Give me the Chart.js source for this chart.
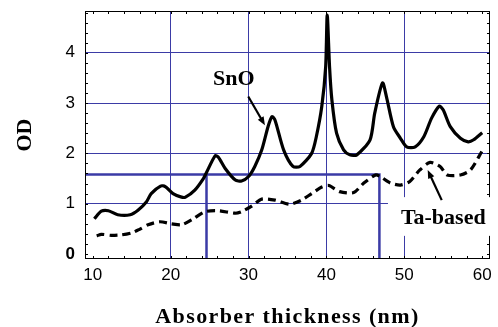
<!DOCTYPE html>
<html>
<head>
<meta charset="utf-8">
<script src="https://cdn.jsdelivr.net/npm/chart.js@4/dist/chart.umd.min.js"></script>
<style>
html, body { margin: 0; padding: 0; background: #fff; }
</style>
</head>
<body>
<canvas id="odChart" width="498" height="327"></canvas>
<script>
// valeurs
var snoThickness = [10.2, 11.1, 12.0, 13.2, 14.8, 15.8, 16.9, 17.5, 18.7, 19.3, 20.3, 21.4, 21.9, 23.1, 24.2, 24.6, 25.7, 26.1, 27.0, 28.3, 29.1, 30.0, 30.8, 31.7, 32.5, 33.0, 33.4, 34.5, 35.7, 36.6, 38.1, 38.7, 39.4, 39.9, 40.1, 40.4, 40.7, 41.3, 42.2, 43.0, 43.9, 45.6, 46.2, 47.2, 47.7, 48.6, 49.5, 50.3, 51.4, 52.5, 53.5, 54.5, 55.0, 55.9, 57.2, 58.2, 58.9, 60.0];
var snoOD = [0.70, 0.85, 0.86, 0.78, 0.78, 0.87, 1.04, 1.20, 1.35, 1.34, 1.20, 1.13, 1.13, 1.27, 1.50, 1.62, 1.95, 1.93, 1.70, 1.47, 1.45, 1.54, 1.74, 2.07, 2.53, 2.73, 2.66, 2.07, 1.74, 1.74, 2.00, 2.33, 2.93, 3.72, 4.75, 3.72, 3.06, 2.40, 2.07, 1.97, 1.97, 2.27, 2.80, 3.40, 3.13, 2.53, 2.30, 2.13, 2.13, 2.33, 2.70, 2.94, 2.86, 2.53, 2.30, 2.23, 2.27, 2.41];

var taThickness = [10.5, 11.1, 12.4, 13.7, 15.0, 16.0, 17.1, 18.6, 20.1, 21.4, 22.7, 24.4, 26.1, 28.3, 29.1, 30.4, 31.7, 33.4, 35.3, 36.8, 38.1, 39.4, 40.3, 41.7, 43.5, 44.8, 46.3, 46.9, 48.2, 49.5, 50.7, 52.0, 53.3, 54.6, 55.5, 57.2, 58.5, 60.0];
var taOD = [0.36, 0.39, 0.37, 0.38, 0.42, 0.49, 0.58, 0.64, 0.60, 0.58, 0.68, 0.84, 0.86, 0.81, 0.84, 0.95, 1.09, 1.07, 0.99, 1.07, 1.20, 1.33, 1.36, 1.24, 1.22, 1.41, 1.57, 1.54, 1.41, 1.37, 1.44, 1.67, 1.82, 1.74, 1.57, 1.57, 1.67, 2.05];

// seuil OD = 1.6 et épaisseurs correspondantes
var thresholdOD = 1.58;
var thresholdSnO = 24.6;
var thresholdTa = 46.8;

var xTicks = [10, 20, 30, 40, 50, 60];
var yTicks = [0, 1, 2, 3, 4];

var xMin = 9, xMax = 61, yMin = -0.1, yMax = 4.83;

var gridBlue = '#3b3ba6';
var serif = '"Liberation Serif", "Times New Roman", serif';

function pts(xs, ys) {
    return xs.map(function(x, i) { return { x: x, y: ys[i] }; });
}

function arrow(ctx, x1, y1, x2, y2) {
    var ang = Math.atan2(y2 - y1, x2 - x1);
    var hl = 9;
    ctx.beginPath();
    ctx.moveTo(x1, y1);
    ctx.lineTo(x2 - Math.cos(ang) * hl * 0.8, y2 - Math.sin(ang) * hl * 0.8);
    ctx.lineWidth = 2.2;
    ctx.stroke();
    ctx.beginPath();
    ctx.moveTo(x2, y2);
    ctx.lineTo(x2 - hl * Math.cos(ang - 0.38), y2 - hl * Math.sin(ang - 0.38));
    ctx.lineTo(x2 - hl * Math.cos(ang + 0.38), y2 - hl * Math.sin(ang + 0.38));
    ctx.closePath();
    ctx.fill();
}

// cadre, petites graduations et annotations
var extras = {
    id: 'extras',
    afterDatasetsDraw: function(chart) {
        var ctx = chart.ctx, a = chart.chartArea;
        var xs = chart.scales.x, ys = chart.scales.y;
        ctx.save();
        ctx.strokeStyle = '#000';
        ctx.fillStyle = '#000';
        ctx.lineWidth = 1;
        ctx.strokeRect(a.left + 0.5, a.top + 0.5, a.right - a.left - 1, a.bottom - a.top - 1);

        ctx.beginPath();
        for (var i = 0; i <= 24; i++) {
            var py = Math.round(ys.getPixelForValue(i * 0.2)) + 0.5;
            ctx.moveTo(a.left, py); ctx.lineTo(a.left + 3, py);
            ctx.moveTo(a.right, py); ctx.lineTo(a.right - 3, py);
        }
        for (var j = 0; j <= 25; j++) {
            var px = Math.round(xs.getPixelForValue(10 + j * 2)) + 0.5;
            ctx.moveTo(px, a.bottom); ctx.lineTo(px, a.bottom - 3);
            ctx.moveTo(px, a.top); ctx.lineTo(px, a.top + 3);
        }
        ctx.stroke();

        ctx.font = 'bold 22px ' + serif;
        ctx.textAlign = 'center';
        ctx.textBaseline = 'middle';

        // SnO
        ctx.fillText('SnO', xs.getPixelForValue(28.1), ys.getPixelForValue(3.47));
        arrow(ctx, xs.getPixelForValue(29.96), ys.getPixelForValue(3.13), xs.getPixelForValue(32.1), ys.getPixelForValue(2.56));

        // Ta-based, avec fond blanc
        var bx = xs.getPixelForValue(47.9), by = ys.getPixelForValue(1.13);
        ctx.fillStyle = '#fff';
        ctx.fillRect(bx, by, a.right + 2 - bx, ys.getPixelForValue(0.36) - by);
        ctx.fillStyle = '#000';
        ctx.fillText('Ta-based', xs.getPixelForValue(55.0), ys.getPixelForValue(0.71));
        arrow(ctx, xs.getPixelForValue(54.8), ys.getPixelForValue(1.07), xs.getPixelForValue(53.0), ys.getPixelForValue(1.67));

        // titre de l'axe x (espacement des lettres)
        ctx.letterSpacing = '1.4px';
        ctx.fillText('Absorber thickness (nm)', (xs.left + xs.right) / 2, chart.height - 10);
        ctx.restore();
    }
};

var ctx = document.getElementById('odChart').getContext('2d');

var odChart = new Chart(ctx, {
    type: 'line',
    data: {
        datasets: [{
            label: 'SnO',
            data: pts(snoThickness, snoOD),
            borderColor: '#000',
            borderWidth: 3.2,
            pointRadius: 0,
            tension: 0.25,
            order: 1
        }, {
            label: 'Ta-based',
            data: pts(taThickness, taOD),
            borderColor: '#000',
            borderWidth: 3.2,
            borderDash: [8, 5],
            pointRadius: 0,
            tension: 0.25,
            order: 2
        }, {
            label: 'seuil',
            data: [{ x: xMin, y: thresholdOD }, { x: thresholdTa, y: thresholdOD }, { x: thresholdTa, y: yMin }],
            borderColor: gridBlue,
            borderWidth: 2.5,
            pointRadius: 0,
            tension: 0,
            order: 3
        }, {
            label: 'seuil SnO',
            data: [{ x: thresholdSnO, y: thresholdOD }, { x: thresholdSnO, y: yMin }],
            borderColor: gridBlue,
            borderWidth: 2.5,
            pointRadius: 0,
            tension: 0,
            order: 3
        }]
    },
    options: {
        responsive: false,
        animation: false,
        layout: { padding: { top: 11, right: 8, left: 0, bottom: 0 } },
        plugins: {
            legend: { display: false },
            tooltip: { enabled: false }
        },
        scales: {
            x: {
                type: 'linear',
                min: xMin,
                max: xMax,
                afterBuildTicks: function(scale) {
                    scale.ticks = xTicks.map(function(v) { return { value: v }; });
                },
                afterFit: function(scale) {
                    scale.height = 68;
                    scale.paddingLeft = 0;
                    scale.paddingRight = 0;
                },
                grid: {
                    drawTicks: false,
                    color: function(c) { return (c.tick && c.tick.value > 10 && c.tick.value < 60) ? gridBlue : 'rgba(0,0,0,0)'; },
                    lineWidth: 1
                },
                border: { display: false },
                ticks: {
                    padding: 6,
                    color: '#000',
                    font: { family: '"Liberation Sans", Arial, sans-serif', size: 17 }
                },
                title: { display: false }
            },
            y: {
                type: 'linear',
                min: yMin,
                max: yMax,
                afterBuildTicks: function(scale) {
                    scale.ticks = yTicks.map(function(v) { return { value: v }; });
                },
                afterFit: function(scale) {
                    scale.width = 85;
                    scale.paddingTop = 0;
                    scale.paddingBottom = 0;
                },
                grid: {
                    drawTicks: false,
                    color: function(c) { return (c.tick && c.tick.value > 0) ? gridBlue : 'rgba(0,0,0,0)'; },
                    lineWidth: 1
                },
                border: { display: false },
                ticks: {
                    padding: 10,
                    color: '#000',
                    font: function(c) {
                        return { family: '"Liberation Sans", Arial, sans-serif', size: 17, weight: (c.tick && c.tick.value === 0) ? 'bold' : 'normal' };
                    }
                },
                title: {
                    display: true,
                    text: 'OD',
                    color: '#000',
                    padding: { top: 14, bottom: 0 },
                    font: { family: serif, size: 22, weight: 'bold', lineHeight: 1 }
                }
            }
        }
    },
    plugins: [extras]
});
</script>
</body>
</html>
